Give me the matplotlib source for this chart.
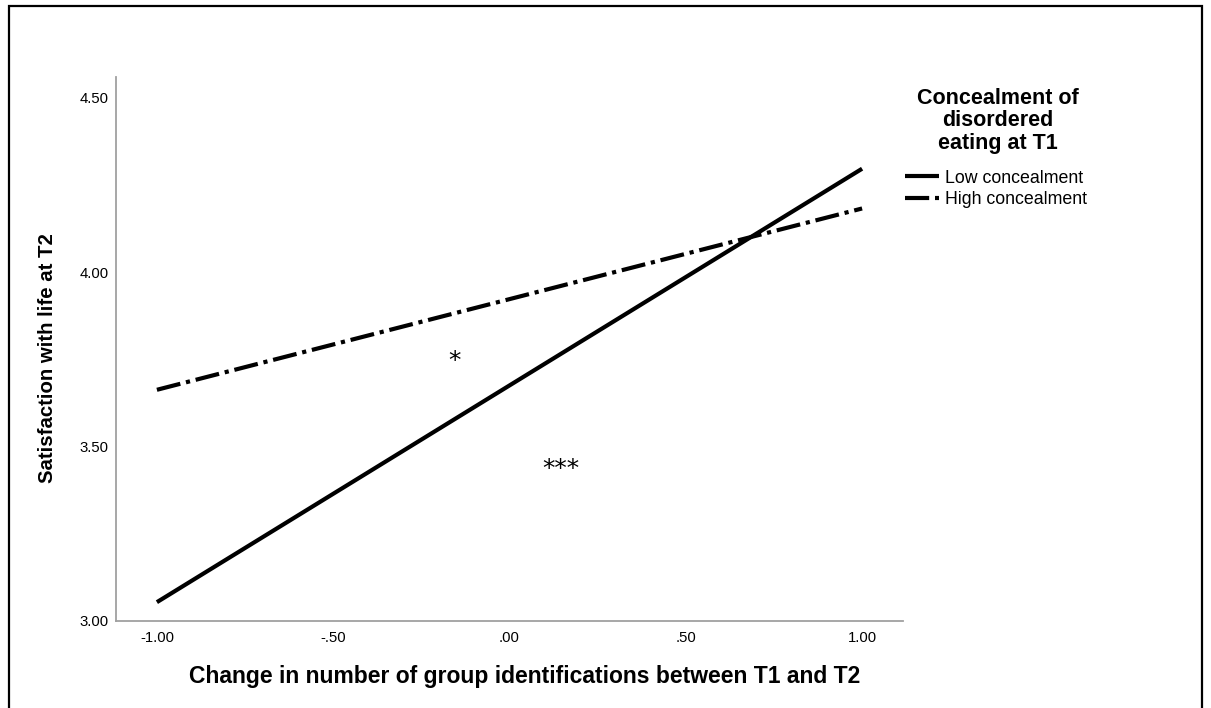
import numpy as np
import matplotlib
matplotlib.use("Agg")
import matplotlib.pyplot as plt
from matplotlib.patches import Rectangle

plt.rcParams["font.family"] = ["Liberation Sans", "DejaVu Sans"]

# simple slopes: predicted satisfaction at the two ends of the x range
x_vals = [-1.0, 1.0]
low_conceal = [3.054, 4.297]
high_conceal = [3.663, 4.183]
series_names = ["Low concealment", "High concealment"]
x_ticks = [-1.0, -0.5, 0.0, 0.5, 1.0]
x_ticklabels = ["-1.00", "-.50", ".00", ".50", "1.00"]
y_ticks = [3.0, 3.5, 4.0, 4.5]
y_ticklabels = ["3.00", "3.50", "4.00", "4.50"]
# significance markers (x, y, text)
stars = [(-0.156, 3.747, "*"), (0.145, 3.437, "***")]

fig = plt.figure(figsize=(12.11, 7.08), dpi=100)
ax = fig.add_axes([116/1211, 87/708, (903-116)/1211, (621-77)/708])

ax.plot(x_vals, low_conceal, color="black", lw=3.0, solid_capstyle="butt",
        label=series_names[0])
ax.plot(x_vals, high_conceal, color="black", lw=3.0, dash_capstyle="butt",
        dashes=(5.8, 1.4, 1.0, 1.4), label=series_names[1])

for sx, sy, s in stars:
    ax.text(sx, sy, s, ha="center", va="center", fontsize=18,
            family="DejaVu Sans")

ax.set_xlim(-1.116, 1.116)
ax.set_ylim(3.0, 4.56)
ax.set_xticks(x_ticks)
ax.set_xticklabels(x_ticklabels)
ax.set_yticks(y_ticks)
ax.set_yticklabels(y_ticklabels)
ax.tick_params(length=0, labelsize=10.7)
ax.tick_params(axis="x", pad=7)
ax.tick_params(axis="y", pad=5.5)
for side in ("top", "right"):
    ax.spines[side].set_visible(False)
for side in ("left", "bottom"):
    ax.spines[side].set_color("#a0a0a0")
    ax.spines[side].set_linewidth(1.3)

ax.set_xlabel("Change in number of group identifications between T1 and T2",
              fontsize=16.5, fontweight="bold")
ax.set_ylabel("Satisfaction with life at T2", fontsize=14.7, fontweight="bold")
ax.xaxis.set_label_coords((525 - 116) / 787, -(676 - 621) / 544)
ax.yaxis.set_label_coords(-(116 - 48) / 787, (621 - 358) / 544)
ax.xaxis.label.set_va("center")
ax.yaxis.label.set_va("center")

fig.text(998/1211, 1 - 121/708, "Concealment of\ndisordered\neating at T1",
         ha="center", va="center", fontsize=15.5, fontweight="bold",
         linespacing=1.12)
fig.legend(loc="center left", bbox_to_anchor=(905/1211, 1 - 189/708),
           frameon=False, fontsize=12.8, handlelength=1.9, handletextpad=0.35,
           labelspacing=0.27, borderaxespad=0, borderpad=0)

# outer frame around the whole figure
fig.patches.append(Rectangle((9/1211, -0.05), (1202-9)/1211, 1.05 - 6/708,
                             transform=fig.transFigure, fill=False,
                             edgecolor="black", lw=1.6))

fig.savefig("out.png", dpi=100)
